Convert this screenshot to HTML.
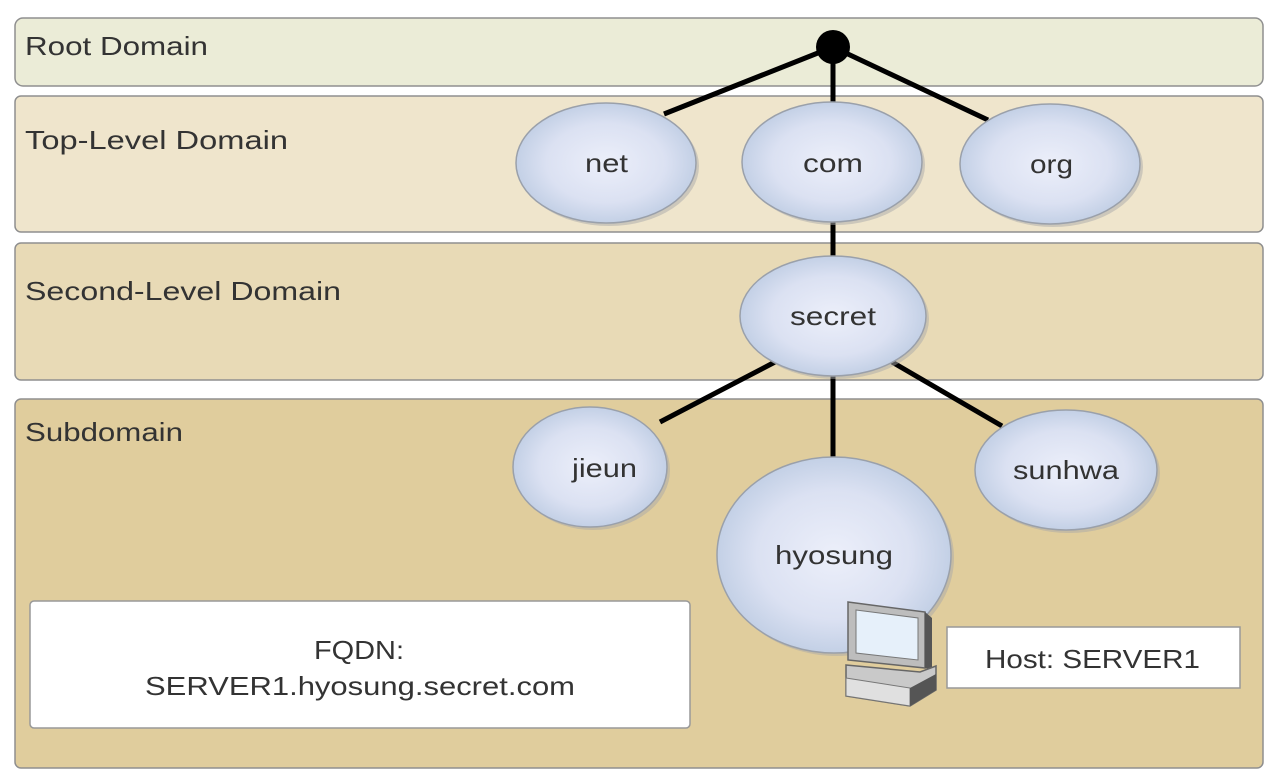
<!DOCTYPE html>
<html><head><meta charset="utf-8"><style>
html,body{margin:0;padding:0;background:#fff;}
svg{display:block;}
text{font-family:"Liberation Sans",sans-serif;fill:#333;}
</style></head><body>
<svg width="1274" height="782" viewBox="0 0 1274 782" xmlns="http://www.w3.org/2000/svg">
<defs>
<radialGradient id="eg" cx="50%" cy="50%" r="55%">
<stop offset="0" stop-color="#eceffa"/><stop offset="0.6" stop-color="#dbe1f2"/><stop offset="1" stop-color="#bccbe2"/>
</radialGradient>
</defs>
<rect x="15" y="18" width="1248" height="68" rx="8" fill="#ebecd7" stroke="#8f8f8f" stroke-width="1.5"/>
<rect x="15" y="96" width="1248" height="136" rx="6" fill="#efe5cc" stroke="#8f8f8f" stroke-width="1.5"/>
<rect x="15" y="243" width="1248" height="137" rx="6" fill="#e8dab6" stroke="#8f8f8f" stroke-width="1.5"/>
<rect x="15" y="399" width="1248" height="369" rx="6" fill="#e0cd9d" stroke="#8f8f8f" stroke-width="1.5"/>
<g font-size="26" lengthAdjust="spacingAndGlyphs">
<text x="25" y="55" textLength="183" lengthAdjust="spacingAndGlyphs">Root Domain</text>
<text x="25" y="149" textLength="263" lengthAdjust="spacingAndGlyphs">Top-Level Domain</text>
<text x="25" y="300" textLength="316" lengthAdjust="spacingAndGlyphs">Second-Level Domain</text>
<text x="25" y="441" textLength="158" lengthAdjust="spacingAndGlyphs">Subdomain</text>
</g>
<g stroke="#000" stroke-width="5" fill="none">
<line x1="833" y1="47" x2="664" y2="114"/>
<line x1="833" y1="47" x2="833" y2="102"/>
<line x1="833" y1="47" x2="988" y2="120"/>
<line x1="833" y1="220" x2="833" y2="258"/>
<line x1="775" y1="362" x2="660" y2="422"/>
<line x1="833" y1="374" x2="833" y2="460"/>
<line x1="892" y1="362" x2="1002" y2="426"/>
</g>
<circle cx="833" cy="47" r="17" fill="#000"/>
<g stroke="#9aa0aa" stroke-width="1.5" fill="url(#eg)">
<ellipse cx="609" cy="166" rx="90" ry="60" fill="#a9a9a9" stroke="none" opacity="0.5"/>
<ellipse cx="606" cy="163" rx="90" ry="60"/>
<ellipse cx="835" cy="165" rx="90" ry="60" fill="#a9a9a9" stroke="none" opacity="0.5"/>
<ellipse cx="832" cy="162" rx="90" ry="60"/>
<ellipse cx="1053" cy="167" rx="90" ry="60" fill="#a9a9a9" stroke="none" opacity="0.5"/>
<ellipse cx="1050" cy="164" rx="90" ry="60"/>
<ellipse cx="836" cy="319" rx="93" ry="60" fill="#a9a9a9" stroke="none" opacity="0.5"/>
<ellipse cx="833" cy="316" rx="93" ry="60"/>
<ellipse cx="593" cy="470" rx="77" ry="60" fill="#a9a9a9" stroke="none" opacity="0.5"/>
<ellipse cx="590" cy="467" rx="77" ry="60"/>
<ellipse cx="1069" cy="473" rx="91" ry="60" fill="#a9a9a9" stroke="none" opacity="0.5"/>
<ellipse cx="1066" cy="470" rx="91" ry="60"/>
<ellipse cx="837" cy="558" rx="117" ry="98" fill="#a9a9a9" stroke="none" opacity="0.5"/>
<ellipse cx="834" cy="555" rx="117" ry="98"/>
</g>
<g font-size="26">
<text x="585" y="172" textLength="43" lengthAdjust="spacingAndGlyphs">net</text>
<text x="803" y="172" textLength="60" lengthAdjust="spacingAndGlyphs">com</text>
<text x="1030" y="173" textLength="43" lengthAdjust="spacingAndGlyphs">org</text>
<text x="790" y="325" textLength="86" lengthAdjust="spacingAndGlyphs">secret</text>
<text x="572" y="477" textLength="65" lengthAdjust="spacingAndGlyphs">jieun</text>
<text x="1013" y="479" textLength="106" lengthAdjust="spacingAndGlyphs">sunhwa</text>
<text x="775" y="564" textLength="118" lengthAdjust="spacingAndGlyphs">hyosung</text>
</g>
<g>
<polygon points="848,602 925,612 925,668 848,660" fill="#bdbdbd" stroke="#666" stroke-width="1.5"/>
<polygon points="925,612 932,618 932,670 925,668" fill="#555"/>
<polygon points="856,610 918,618 918,660 856,653" fill="#e6f0fa" stroke="#777"/>
<polygon points="846,665 920,672 936,666 936,690 910,706 846,696" fill="#c9c9c9" stroke="#666" stroke-width="1.5"/>
<polygon points="846,678 910,688 910,706 846,696" fill="#e0e0e0" stroke="#777"/>
<polygon points="910,688 936,674 936,690 910,706" fill="#555"/>
</g>
<rect x="30" y="601" width="660" height="127" rx="4" fill="#fff" stroke="#999" stroke-width="1.5"/>
<text x="314" y="659" font-size="26" textLength="90" lengthAdjust="spacingAndGlyphs">FQDN:</text>
<text x="145" y="695" font-size="26" textLength="430" lengthAdjust="spacingAndGlyphs">SERVER1.hyosung.secret.com</text>
<rect x="947" y="627" width="293" height="61" fill="#fff" stroke="#999" stroke-width="1.5"/>
<text x="985" y="668" font-size="26" textLength="215" lengthAdjust="spacingAndGlyphs">Host: SERVER1</text>
</svg>
</body></html>
